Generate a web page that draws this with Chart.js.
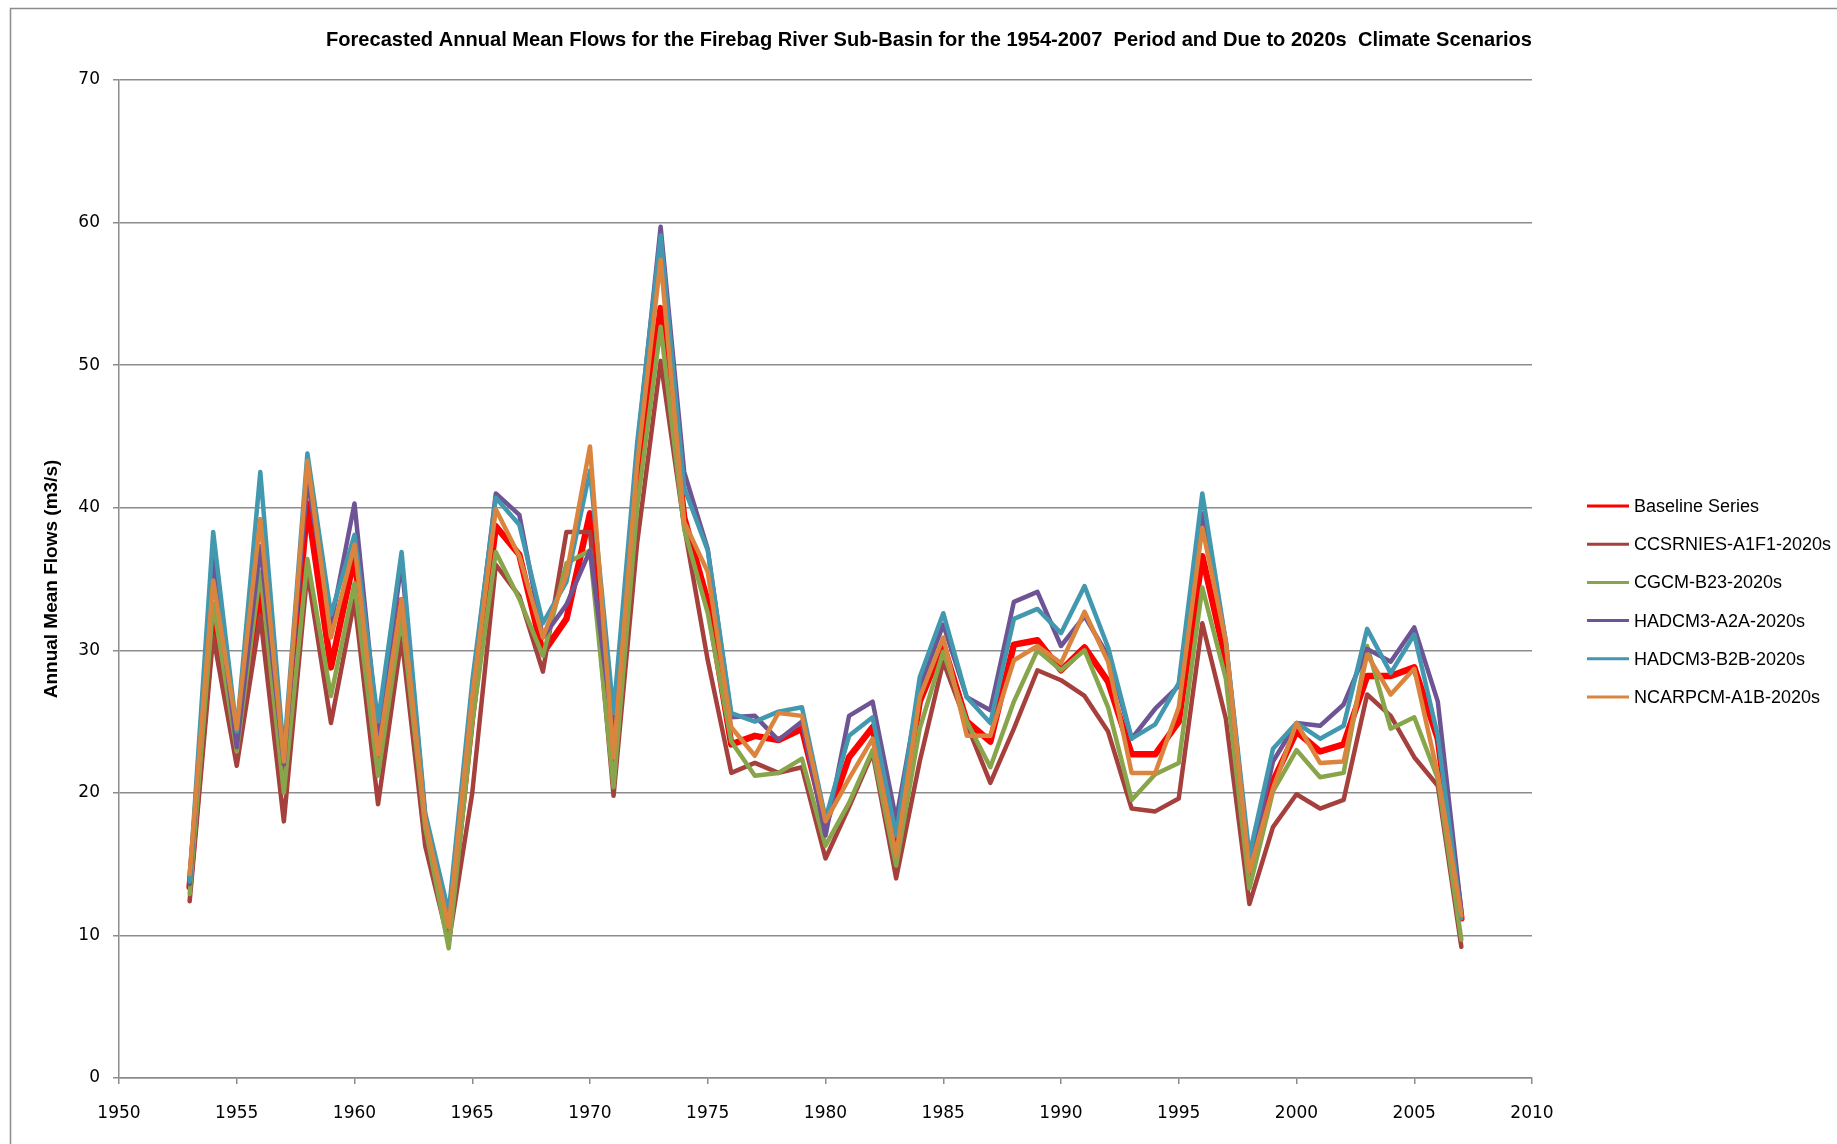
<!DOCTYPE html>
<html>
<head>
<meta charset="utf-8">
<script src="https://cdn.jsdelivr.net/npm/chart.js@4.4.1/dist/chart.umd.min.js"></script>
<style>
  html, body { margin: 0; padding: 0; background: #ffffff; overflow: hidden; }
  #wrap { position: relative; width: 1837px; height: 1144px; }
</style>
</head>
<body>
<div id="wrap"><canvas id="c" width="1837" height="1144"></canvas></div>
<script>
// Water years of the simulated record
const years = [1953,1954,1955,1956,1957,1958,1959,1960,1961,1962,1963,1964,1965,1966,1967,1968,1969,1970,1971,1972,1973,1974,1975,1976,1977,1978,1979,1980,1981,1982,1983,1984,1985,1986,1987,1988,1989,1990,1991,1992,1993,1994,1995,1996,1997,1998,1999,2000,2001,2002,2003,2004,2005,2006,2007];

// Annual mean flows (m3/s) per scenario
const baseline = [13.4,32.5,23.5,34.3,21.0,40.3,28.8,36.6,22.2,33.5,17.3,10.0,25.4,38.7,36.7,29.8,32.2,39.6,22.0,42.0,54.0,39.3,33.4,23.4,24.0,23.7,24.5,17.8,22.5,24.6,16.1,26.4,30.4,25.0,23.6,30.4,30.7,28.6,30.2,27.8,22.7,22.7,25.0,36.6,29.3,14.2,20.8,24.3,22.9,23.4,28.2,28.2,28.8,23.8,11.2];
const ccsrnies = [12.4,31.0,21.9,32.4,18.0,35.5,24.9,33.5,19.2,30.9,16.3,9.5,20.0,36.0,33.8,28.5,38.3,38.3,19.8,37.5,50.3,38.7,29.3,21.4,22.1,21.4,21.8,15.4,19.0,22.8,14.0,22.2,29.2,24.8,20.7,24.5,28.6,27.9,26.8,24.3,18.9,18.7,19.6,31.9,25.2,12.2,17.6,19.9,18.9,19.5,26.9,25.4,22.5,20.5,9.2];
const cgcm = [12.9,33.3,22.9,35.5,20.0,36.4,26.8,34.7,21.2,32.4,17.6,9.1,24.9,36.9,33.6,29.6,36.1,37.0,20.4,40.0,52.7,38.5,32.6,23.6,21.2,21.4,22.4,16.3,19.3,23.0,14.9,24.5,29.9,25.0,21.8,26.4,30.0,28.6,30.0,26.0,19.5,21.3,22.1,34.4,28.0,13.3,20.1,23.0,21.1,21.4,30.3,24.5,25.3,21.0,9.7];
const hadcm3A2A = [13.6,36.5,23.2,37.3,22.0,42.0,31.8,40.3,24.0,36.2,18.4,11.1,27.2,41.0,39.5,30.9,33.2,37.0,24.1,44.0,59.7,42.5,37.1,25.3,25.4,23.7,25.0,17.0,25.4,26.4,18.1,27.4,31.8,26.7,25.8,33.4,34.1,30.3,32.4,29.6,23.8,25.9,27.5,39.6,30.6,14.9,22.2,24.9,24.7,26.2,30.1,29.2,31.6,26.4,11.7];
const hadcm3B2B = [13.8,38.3,24.3,42.5,22.7,43.8,32.5,38.1,25.0,36.9,18.6,11.6,27.8,40.7,38.8,31.9,34.8,42.6,25.6,44.5,59.1,41.4,37.0,25.6,25.0,25.7,26.0,18.2,24.0,25.3,17.0,28.1,32.6,26.7,24.9,32.2,32.9,31.2,34.5,30.2,23.8,24.8,27.7,41.0,30.6,15.6,23.1,24.9,23.8,24.7,31.5,28.4,31.1,24.0,11.2];
const ncarpcm = [14.3,34.9,24.5,39.2,22.2,43.3,30.9,37.4,22.7,33.6,18.1,10.6,26.7,39.9,36.6,30.9,35.3,44.3,22.5,43.0,57.4,39.0,35.5,24.6,22.6,25.6,25.4,18.0,21.0,23.8,15.6,26.7,30.9,24.0,24.0,29.3,30.3,29.1,32.7,29.2,21.4,21.4,26.0,38.6,30.6,14.5,20.3,24.9,22.1,22.2,29.7,26.9,28.7,21.3,11.4];

const seriesNames = ["Baseline Series","CCSRNIES-A1F1-2020s","CGCM-B23-2020s","HADCM3-A2A-2020s","HADCM3-B2B-2020s","NCARPCM-A1B-2020s"];
const seriesValues = [baseline, ccsrnies, cgcm, hadcm3A2A, hadcm3B2B, ncarpcm];
const seriesColors = ["#ff0000","#a5403d","#89a54b","#6e5494","#4198af","#db843d"];
const seriesWidths = [6.5, 4.5, 4.5, 4.5, 4.5, 4.5];

const xTicks = [1950,1955,1960,1965,1970,1975,1980,1985,1990,1995,2000,2005,2010];
const yTicks = [0,10,20,30,40,50,60,70];

const titleText = "Forecasted Annual Mean Flows for the Firebag River Sub-Basin for the 1954-2007  Period and Due to 2020s  Climate Scenarios";
const yTitleText = "Annual Mean Flows (m3/s)";

const gridColor = "#8c8c8c";

const datasets = seriesNames.map((name, i) => ({
  label: name,
  data: years.map((yr, k) => ({ x: yr, y: seriesValues[i][k] })),
  borderColor: seriesColors[i],
  backgroundColor: seriesColors[i],
  borderWidth: seriesWidths[i],
  pointRadius: 0,
  pointHoverRadius: 0,
  tension: 0,
  fill: false,
  borderJoinStyle: "round",
  borderCapStyle: "round",
  order: seriesNames.length - i   // later series painted over earlier ones
}));

// Frame, title, rotated axis title and the right-hand legend
const decorations = {
  id: "decorations",
  beforeDraw(chart) {
    const ctx = chart.ctx;
    ctx.save();
    ctx.fillStyle = "#ffffff";
    ctx.fillRect(0, 0, chart.width, chart.height);
    ctx.strokeStyle = "#8c8c8c";
    ctx.lineWidth = 1.5;
    ctx.strokeRect(10.5, 8.5, chart.width + 20, chart.height + 20);
    ctx.restore();
  },
  afterDraw(chart) {
    const ctx = chart.ctx;
    const area = chart.chartArea;
    ctx.save();
    // title
    ctx.fillStyle = "#000000";
    ctx.font = "bold 21px 'Liberation Sans Narrow', 'Liberation Sans', Arial, sans-serif";
    ctx.textAlign = "center";
    ctx.textBaseline = "middle";
    ctx.fillText(titleText, 929, 40, 1206);

    // y axis title
    ctx.save();
    ctx.translate(52, (area.top + area.bottom) / 2);
    ctx.rotate(-Math.PI / 2);
    ctx.font = "bold 19px 'Liberation Sans', Arial, sans-serif";
    ctx.textAlign = "center";
    ctx.textBaseline = "middle";
    ctx.fillText(yTitleText, 0, 0);
    ctx.restore();

    // legend
    const x0 = 1587, x1 = 1629, tx = 1634, y0 = 506, dy = 38.2;
    ctx.font = "18px 'Liberation Sans', Arial, sans-serif";
    ctx.textAlign = "left";
    ctx.textBaseline = "middle";
    chart.data.datasets.forEach((ds, i) => {
      const y = y0 + i * dy;
      ctx.strokeStyle = ds.borderColor;
      ctx.lineWidth = 3;
      ctx.lineCap = "butt";
      ctx.beginPath();
      ctx.moveTo(x0, y);
      ctx.lineTo(x1, y);
      ctx.stroke();
      ctx.fillStyle = "#000000";
      ctx.fillText(ds.label, tx, y + 1);
    });
    ctx.restore();
  }
};

new Chart(document.getElementById("c"), {
  type: "line",
  data: { datasets },
  plugins: [decorations],
  options: {
    responsive: false,
    devicePixelRatio: 1,
    animation: false,
    events: [],
    layout: { padding: { left: 10, top: 80, right: 305, bottom: 10 } },
    plugins: {
      legend: { display: false },
      title: { display: false },
      tooltip: { enabled: false }
    },
    scales: {
      x: {
        type: "linear",
        min: xTicks[0],
        max: xTicks[xTicks.length - 1],
        afterBuildTicks: (s) => { s.ticks = xTicks.map(v => ({ value: v })); },
        afterFit: (s) => { s.height = 56; },
        ticks: {
          callback: (v) => String(v),
          color: "#000000",
          padding: 19,
          maxRotation: 0,
          autoSkip: false,
          font: { family: "'DejaVu Sans', sans-serif", size: 17 }
        },
        grid: { drawOnChartArea: false, drawTicks: true, tickLength: 6, color: gridColor, lineWidth: 1.5 },
        border: { display: true, color: gridColor, width: 1.5 }
      },
      y: {
        type: "linear",
        min: yTicks[0],
        max: yTicks[yTicks.length - 1],
        afterBuildTicks: (s) => { s.ticks = yTicks.map(v => ({ value: v })); },
        afterFit: (s) => { s.width = 109; },
        ticks: {
          color: "#000000",
          padding: 13,
          font: { family: "'DejaVu Sans', sans-serif", size: 17 }
        },
        grid: { drawTicks: true, tickLength: 6, color: gridColor, lineWidth: 1.5 },
        border: { display: true, color: gridColor, width: 1.5 }
      }
    }
  }
});
</script>
</body>
</html>
